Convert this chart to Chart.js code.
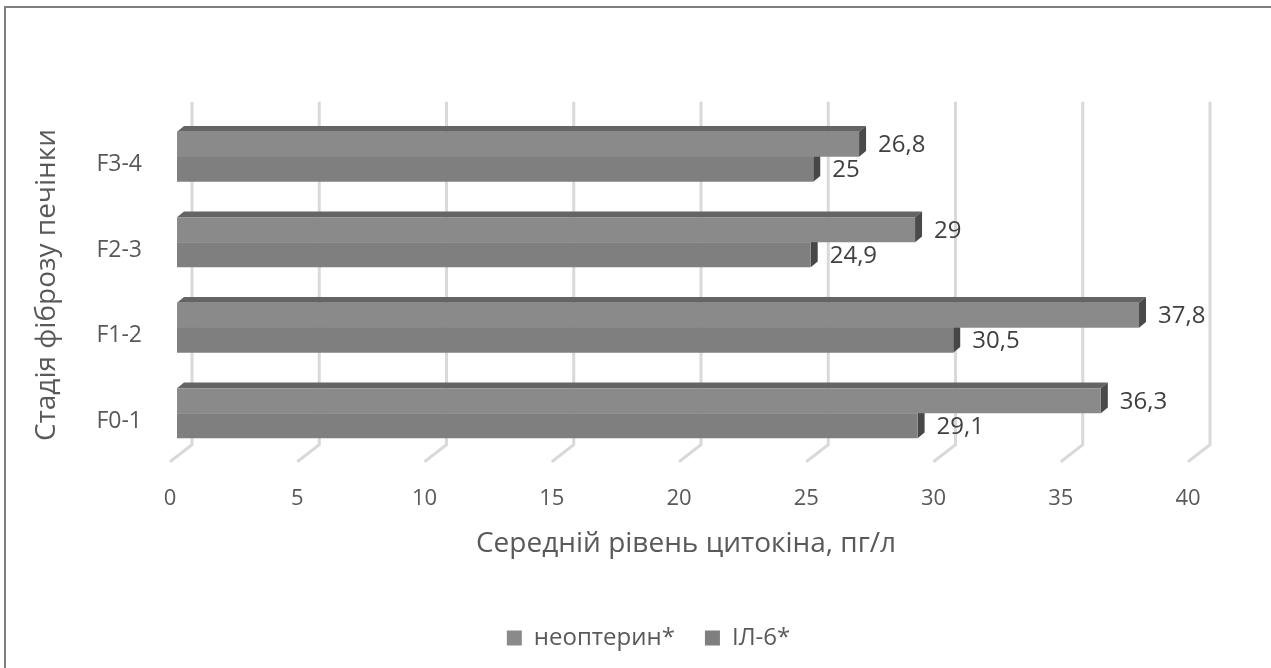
<!DOCTYPE html>
<html>
<head>
<meta charset="utf-8">
<script src="https://cdn.jsdelivr.net/npm/chart.js@4/dist/chart.umd.min.js"></script>
<style>
  html, body { margin: 0; padding: 0; background: #fff; }
</style>
</head>
<body>
<canvas id="fibrosisChart" width="1271" height="668"></canvas>
<script>
const stages = ['F0-1', 'F1-2', 'F2-3', 'F3-4'];
const neopterin = [36.3, 37.8, 29, 26.8];
const il6 = [29.1, 30.5, 24.9, 25];
const seriesNames = ['неоптерин*', 'ІЛ-6*'];
const xMin = 0;
const xMax = 40;
const xStep = 5;

const FONT = "'Open Sans', sans-serif";
const GRID = '#d9d9d9';

// fake depth: bars are 7px deep, the wall sits 15px behind them, the floor edge 7px in front
const SLOPE = 0.82;
const BAR_DEPTH = 7;
const WALL_BACK = 15;
const FLOOR_FRONT = 7;

const faces = [
  { top: '#646464', side: '#4a4a4a' },
  { top: '#5e5e5e', side: '#474747' }
];

function fmt(v) {
  return String(v).replace('.', ',');
}

const bar3d = {
  id: 'bar3d',
  beforeDraw(chart) {
    const ctx = chart.ctx;
    ctx.save();
    ctx.fillStyle = '#fff';
    ctx.fillRect(0, 0, chart.width, chart.height);
    ctx.restore();
  },
  beforeDatasetsDraw(chart) {
    const ctx = chart.ctx;
    const area = chart.chartArea;
    const x = chart.scales.x;
    ctx.save();

    // back wall lines and their floor part
    ctx.strokeStyle = GRID;
    ctx.lineWidth = 3;
    ctx.lineJoin = 'miter';
    x.ticks.forEach(t => {
      const px = x.getPixelForValue(t.value);
      const bx = px + WALL_BACK;
      ctx.beginPath();
      ctx.moveTo(bx, area.top - WALL_BACK * SLOPE);
      ctx.lineTo(bx, area.bottom - WALL_BACK * SLOPE + 1);
      ctx.lineTo(px - FLOOR_FRONT, area.bottom + FLOOR_FRONT * SLOPE);
      ctx.stroke();
    });

    // top and right faces; the flat fronts are drawn by Chart.js afterwards
    const dy = BAR_DEPTH * SLOPE;
    chart.data.datasets.forEach((ds, i) => {
      const meta = chart.getDatasetMeta(i);
      meta.data.forEach(bar => {
        const top = bar.y - bar.height / 2;
        const bottom = bar.y + bar.height / 2;
        ctx.fillStyle = faces[i].top;
        ctx.beginPath();
        ctx.moveTo(bar.base, top);
        ctx.lineTo(bar.base + BAR_DEPTH, top - dy);
        ctx.lineTo(bar.x + BAR_DEPTH, top - dy);
        ctx.lineTo(bar.x, top);
        ctx.closePath();
        ctx.fill();
        ctx.fillStyle = faces[i].side;
        ctx.beginPath();
        ctx.moveTo(bar.x, top);
        ctx.lineTo(bar.x + BAR_DEPTH, top - dy);
        ctx.lineTo(bar.x + BAR_DEPTH, bottom - dy);
        ctx.lineTo(bar.x, bottom);
        ctx.closePath();
        ctx.fill();
      });
    });
    ctx.restore();
  },
  afterDatasetsDraw(chart) {
    const ctx = chart.ctx;
    ctx.save();
    ctx.font = '24px ' + FONT;
    ctx.fillStyle = '#404040';
    ctx.textAlign = 'left';
    ctx.textBaseline = 'middle';
    chart.data.datasets.forEach((ds, i) => {
      const meta = chart.getDatasetMeta(i);
      meta.data.forEach((bar, j) => {
        ctx.fillText(fmt(ds.data[j]), bar.x + 19, bar.y + 1);
      });
    });
    ctx.restore();
  },
  afterDraw(chart) {
    const ctx = chart.ctx;
    ctx.save();
    ctx.fillStyle = '#7f7f7f';
    ctx.fillRect(4, 6, chart.width - 4, 2);
    ctx.fillRect(4, 6, 2, chart.height - 6);
    ctx.restore();
  }
};

new Chart(document.getElementById('fibrosisChart').getContext('2d'), {
  type: 'bar',
  data: {
    labels: stages,
    datasets: [{
      label: seriesNames[0],
      data: neopterin,
      backgroundColor: '#8a8a8a',
      borderWidth: 0
    }, {
      label: seriesNames[1],
      data: il6,
      backgroundColor: '#7f7f7f',
      borderWidth: 0
    }]
  },
  options: {
    indexAxis: 'y',
    responsive: false,
    animation: false,
    layout: {
      padding: { top: 114, left: 26, right: 0, bottom: 8 }
    },
    datasets: {
      bar: { categoryPercentage: 0.585, barPercentage: 1 }
    },
    scales: {
      y: {
        reverse: true,
        grid: { display: false, drawTicks: false },
        border: { display: false },
        ticks: {
          color: '#595959',
          font: { family: FONT, size: 23 },
          padding: 35,
          labelOffset: 8
        },
        title: {
          display: true,
          text: 'Стадія фіброзу печінки',
          color: '#595959',
          font: { family: FONT, size: 28 },
          padding: { top: 4, bottom: 0 }
        },
        afterFit(scale) { scale.width = 151; }
      },
      yRight: {
        type: 'category',
        position: 'right',
        grid: { display: false, drawTicks: false },
        border: { display: false },
        ticks: { display: false },
        afterFit(scale) { scale.width = 76; }
      },
      x: {
        min: xMin,
        max: xMax,
        grid: { display: false, drawTicks: false },
        border: { display: false },
        ticks: {
          stepSize: xStep,
          color: '#595959',
          font: { family: FONT, size: 22 },
          padding: 30,
          labelOffset: -7
        },
        title: {
          display: true,
          text: 'Середній рівень цитокіна, пг/л',
          color: '#595959',
          font: { family: FONT, size: 28 },
          padding: { top: 0, bottom: 35 }
        },
        afterFit(scale) { scale.height = 140; }
      }
    },
    plugins: {
      legend: {
        position: 'bottom',
        labels: {
          color: '#595959',
          font: { family: FONT, size: 24 },
          boxWidth: 15,
          boxHeight: 15,
          padding: 30
        }
      },
      tooltip: { enabled: false }
    }
  },
  plugins: [bar3d]
});
</script>
</body>
</html>
